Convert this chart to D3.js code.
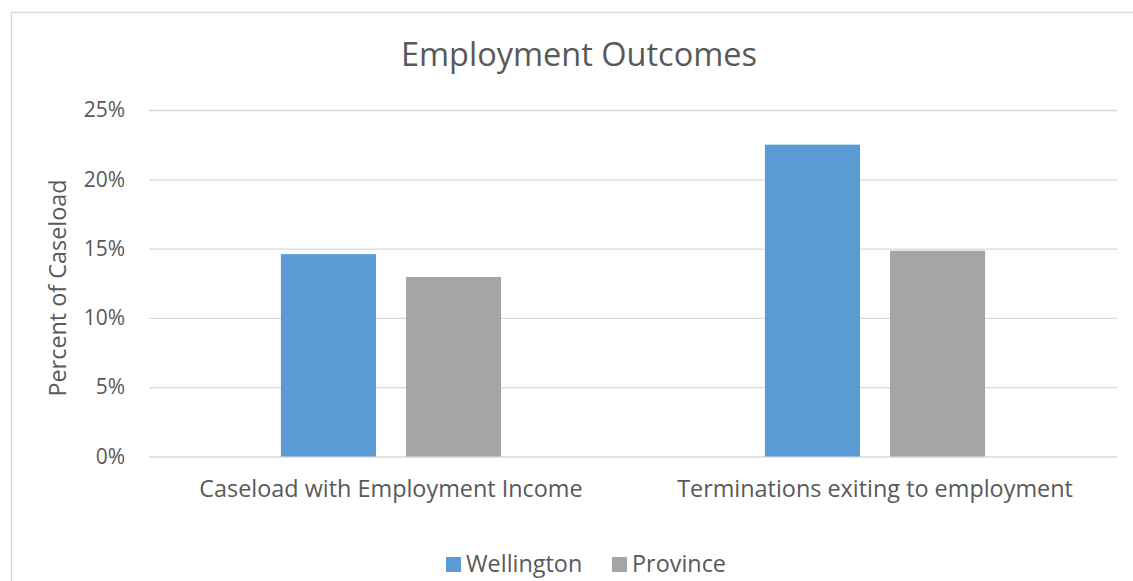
<!DOCTYPE html>
<html>
<head>
<meta charset="utf-8">
<script src="https://cdn.jsdelivr.net/npm/d3@7"></script>
<style>
  body { margin: 0; background: #fff; }
  text { font-family: "Open Sans", "Noto Sans", sans-serif; fill: #595959; }
</style>
</head>
<body>
<div id="chart"></div>
<script>
const WIDTH = 1133, HEIGHT = 581;

const categories = ["Caseload with Employment Income", "Terminations exiting to employment"];
const seriesNames = ["Wellington", "Province"];
const wellington = [14.6, 22.5];
const province = [12.95, 14.85];
const yTicks = [0, 5, 10, 15, 20, 25];
const COLORS = { Wellington: "#5B9BD5", Province: "#A5A5A5" };

const rows = categories.map((c, i) => ({ cat: c, Wellington: wellington[i], Province: province[i] }));

const plot = { left: 149, right: 1117, top: 110, bottom: 456.5 };

const svg = d3.select("#chart").append("svg")
  .attr("width", WIDTH).attr("height", HEIGHT);

svg.append("rect").attr("width", WIDTH).attr("height", HEIGHT).attr("fill", "#fff");
// chart frame, runs off the right/bottom edge
svg.append("rect")
  .attr("x", 11.5).attr("y", 12.5).attr("width", 1200).attr("height", 700)
  .attr("fill", "none").attr("stroke", "#D9D9D9").attr("stroke-width", 1.3);

const x0 = d3.scaleBand().domain(categories)
  .range([plot.left, plot.right]).paddingInner(0.545).paddingOuter(0.2725);
const x1 = d3.scaleBand().domain(seriesNames)
  .range([0, x0.bandwidth()]).paddingInner(0.24);
const y = d3.scaleLinear().domain([0, 25]).range([plot.bottom, plot.top]);

// gridlines + y labels
const yAxis = d3.axisLeft(y).tickValues(yTicks).tickFormat(d => d + "%")
  .tickSize(-(plot.right - plot.left)).tickPadding(24);
const gy = svg.append("g").attr("transform", `translate(${plot.left},0)`).call(yAxis);
gy.select(".domain").remove();
gy.selectAll(".tick line").attr("stroke", "#D9D9D9").attr("stroke-width", 1.3);
gy.selectAll(".tick text").style("font-size", "21px").attr("fill", "#595959");

// bars
const groups = svg.append("g").selectAll("g").data(rows).join("g")
  .attr("transform", d => `translate(${x0(d.cat)},0)`);
groups.selectAll("rect")
  .data(d => seriesNames.map(s => ({ s, v: d[s] })))
  .join("rect")
  .attr("x", d => x1(d.s))
  .attr("width", x1.bandwidth())
  .attr("y", d => y(d.v))
  .attr("height", d => y(0) - y(d.v))
  .attr("fill", d => COLORS[d.s]);

// category axis
const xAxis = d3.axisBottom(x0).tickSize(0).tickPadding(24);
const gx = svg.append("g").attr("transform", `translate(0,${plot.bottom})`).call(xAxis);
gx.select(".domain").remove();
gx.selectAll(".tick text").style("font-size", "23.4px").attr("fill", "#595959");

// title
svg.append("text").attr("x", 579).attr("y", 66).attr("text-anchor", "middle")
  .style("font-size", "32.5px").text("Employment Outcomes");

// y axis title
svg.append("text").attr("transform", "translate(66,288) rotate(-90)")
  .attr("text-anchor", "middle").style("font-size", "23.4px").text("Percent of Caseload");

// legend
const legend = svg.append("g").attr("transform", "translate(446,557)");
const legX = [0, 166];
seriesNames.forEach((s, i) => {
  const g = legend.append("g").attr("transform", `translate(${legX[i]},0)`);
  g.append("rect").attr("width", 15).attr("height", 15).attr("fill", COLORS[s]);
  g.append("text").attr("x", 20).attr("y", 15).style("font-size", "23.4px").text(s);
});
</script>
</body>
</html>
